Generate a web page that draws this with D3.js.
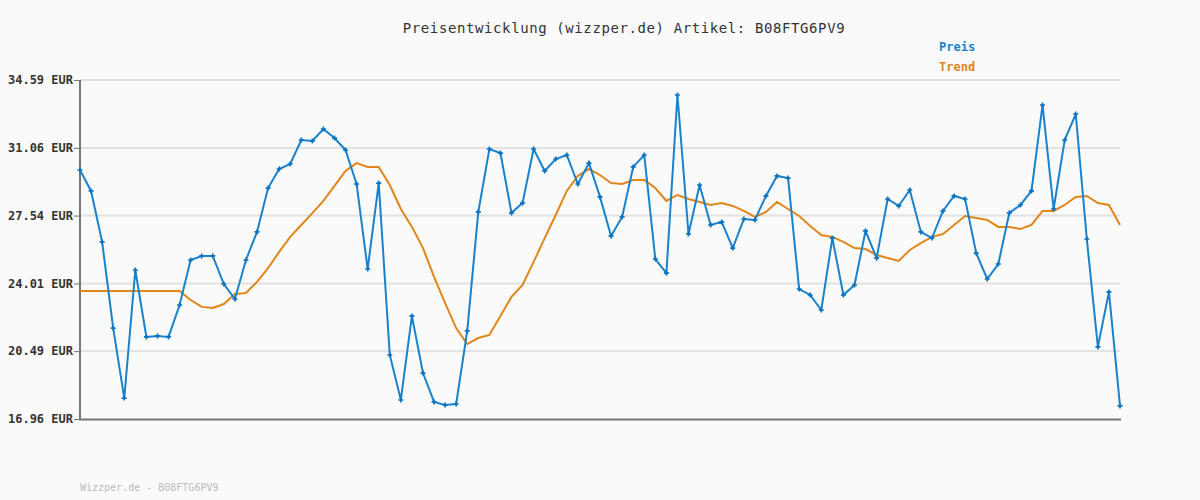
<!DOCTYPE html>
<html><head><meta charset="utf-8">
<script src="https://cdn.jsdelivr.net/npm/d3@7"></script>
<style>body{margin:0;background:#fafafa}svg{display:block}</style>
</head><body>
<svg id="c" width="1200" height="500"></svg>
<script>
const yTicks=[16.96,20.49,24.01,27.54,31.06,34.59];
const preis=[29.91,28.82,26.17,21.69,18.05,24.71,21.23,21.28,21.23,22.89,
25.23,25.44,25.44,23.98,23.20,25.23,26.69,28.97,29.96,30.22,
31.47,31.42,32.04,31.57,30.95,29.18,24.76,29.23,20.29,17.95,
22.32,19.35,17.85,17.69,17.74,21.54,27.73,31.00,30.79,27.68,
28.19,31.00,29.86,30.48,30.69,29.18,30.27,28.51,26.48,27.47,
30.07,30.69,25.28,24.55,33.81,26.58,29.13,27.05,27.21,25.85,
27.36,27.31,28.56,29.60,29.49,23.72,23.41,22.63,26.37,23.41,
23.93,26.74,25.33,28.40,28.04,28.87,26.69,26.37,27.78,28.56,
28.40,25.59,24.24,25.02,27.68,28.09,28.82,33.29,27.88,31.47,
32.82,26.32,20.71,23.57,17.64];
const trend=[23.62,23.62,23.62,23.62,23.62,23.62,23.62,23.62,23.62,23.62,
23.15,22.79,22.73,22.94,23.46,23.51,24.09,24.81,25.65,26.43,
27.05,27.67,28.30,29.08,29.86,30.27,30.07,30.07,29.13,27.88,
26.95,25.85,24.35,22.99,21.69,20.86,21.17,21.33,22.32,23.31,
23.93,25.13,26.37,27.57,28.82,29.60,29.96,29.65,29.23,29.18,
29.39,29.39,28.97,28.30,28.61,28.40,28.25,28.09,28.19,28.04,
27.78,27.47,27.73,28.25,27.88,27.52,27.00,26.53,26.43,26.17,
25.85,25.80,25.49,25.33,25.18,25.75,26.11,26.43,26.58,27.05,
27.52,27.41,27.31,26.95,26.95,26.84,27.05,27.78,27.78,28.09,
28.51,28.56,28.19,28.09,27.05];
const svg=d3.select("#c");
const font="'DejaVu Sans Mono', monospace";
const x=d3.scaleLinear().domain([0,preis.length-1]).range([80,1120]);
const y=d3.scaleLinear().domain([16.96,34.59]).range([419,80]);
svg.append("g").selectAll("line").data(yTicks.slice(1)).join("line")
 .attr("x1",80).attr("x2",1120).attr("y1",d=>y(d)).attr("y2",d=>y(d))
 .attr("stroke","#e2e2e2").attr("stroke-width",2);
const ax=svg.append("g").attr("transform","translate(80,0)")
 .call(d3.axisLeft(y).tickValues(yTicks).tickSize(6).tickFormat(d=>d.toFixed(2)+" EUR"));
ax.select(".domain").remove();
ax.selectAll(".tick line").attr("stroke","#777");
ax.selectAll("text").attr("font-family",font).attr("font-size",12).attr("font-weight","bold").attr("fill","#333").attr("x",-7);
svg.append("line").attr("x1",80).attr("x2",80).attr("y1",80).attr("y2",420).attr("stroke","#777").attr("stroke-width",2);
svg.append("line").attr("x1",79).attr("x2",1121).attr("y1",419.5).attr("y2",419.5).attr("stroke","#777").attr("stroke-width",2);
const line=d3.line().x((d,i)=>x(i)).y(d=>y(d));
svg.append("path").attr("d",line(trend)).attr("fill","none").attr("stroke","#e0861a").attr("stroke-width",2);
svg.append("path").attr("d",line(preis)).attr("fill","none").attr("stroke","#1a82cc").attr("stroke-width",2);
svg.append("g").selectAll("path").data(preis).join("path")
 .attr("d",d3.symbol(d3.symbolCross,14)).attr("transform",(d,i)=>`translate(${x(i)},${y(d)})`).attr("fill","#0a72bf");
svg.append("text").attr("x",624).attr("y",33).attr("text-anchor","middle").attr("font-family",font).attr("font-size",14).attr("letter-spacing",0.6).attr("fill","#333").text("Preisentwicklung (wizzper.de) Artikel: B08FTG6PV9");
svg.append("text").attr("x",939).attr("y",51).attr("font-family",font).attr("font-size",12).attr("font-weight","bold").attr("fill","#1a82cc").text("Preis");
svg.append("text").attr("x",939).attr("y",71).attr("font-family",font).attr("font-size",12).attr("font-weight","bold").attr("fill","#e0861a").text("Trend");
svg.append("text").attr("x",80).attr("y",491).attr("font-family",font).attr("font-size",10).attr("fill","#bbb").text("Wizzper.de - B08FTG6PV9");
</script></body></html>
